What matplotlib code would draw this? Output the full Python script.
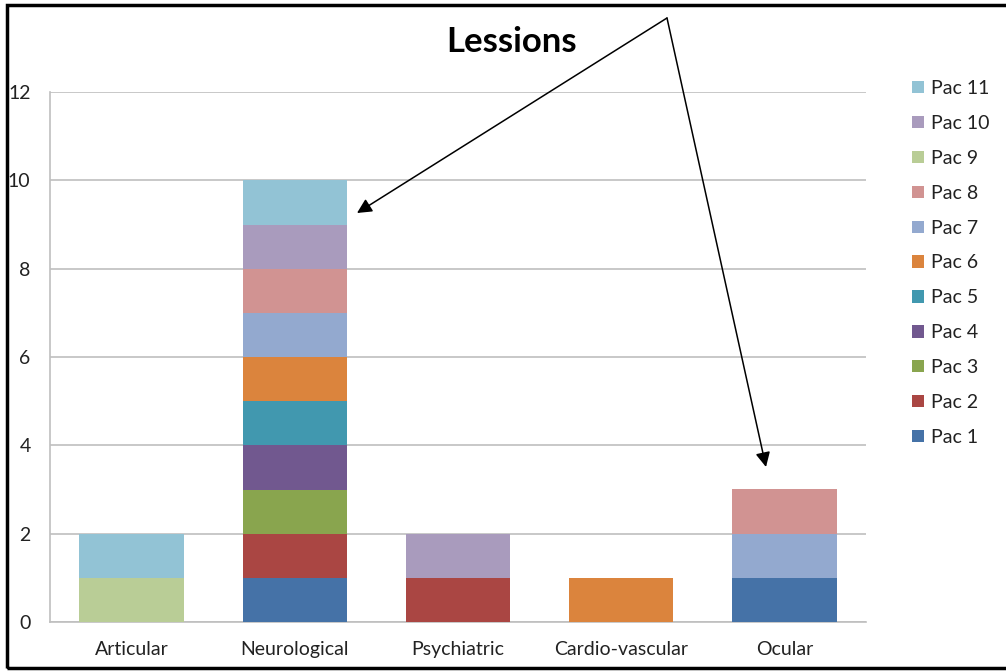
import matplotlib
matplotlib.use("Agg")
import matplotlib.pyplot as plt
from matplotlib.patches import Rectangle
import numpy as np

plt.rcParams['font.family'] = ['Lato', 'DejaVu Sans']

categories = ["Articular", "Neurological", "Psychiatric", "Cardio-vascular", "Ocular"]
series_names = ["Pac 1", "Pac 2", "Pac 3", "Pac 4", "Pac 5", "Pac 6",
                "Pac 7", "Pac 8", "Pac 9", "Pac 10", "Pac 11"]
pac1 = [0, 1, 0, 0, 1]
pac2 = [0, 1, 1, 0, 0]
pac3 = [0, 1, 0, 0, 0]
pac4 = [0, 1, 0, 0, 0]
pac5 = [0, 1, 0, 0, 0]
pac6 = [0, 1, 0, 1, 0]
pac7 = [0, 1, 0, 0, 1]
pac8 = [0, 1, 0, 0, 1]
pac9 = [1, 0, 0, 0, 0]
pac10 = [0, 1, 1, 0, 0]
pac11 = [1, 1, 0, 0, 0]
series_values = [pac1, pac2, pac3, pac4, pac5, pac6, pac7, pac8, pac9, pac10, pac11]
colors = ["#4572A7", "#AA4643", "#89A54E", "#71588F", "#4198AF", "#DB843D",
          "#93A9CF", "#D19392", "#B9CD96", "#A99BBD", "#92C3D5"]
y_ticks = [0, 2, 4, 6, 8, 10, 12]

W, H = 1006, 671
fig = plt.figure(figsize=(W / 100, H / 100), dpi=100)
ax = fig.add_axes([50 / W, 1 - 622 / H, (866 - 50) / W, (622 - 92) / H])

x = np.arange(len(categories))
bottom = np.zeros(len(categories))
handles = []
for name, vals, c in zip(series_names, series_values, colors):
    v = np.array(vals, dtype=float)
    b = ax.bar(x, v, bottom=bottom, width=0.64, color=c, label=name, zorder=3)
    handles.append(b)
    bottom += v

ax.set_xlim(-0.5, len(categories) - 0.5)
ax.set_ylim(0, 12)
ax.set_yticks(y_ticks)
ax.set_xticks(x)
ax.set_xticklabels(categories, fontsize=14, color="#222222")
ax.tick_params(axis='y', length=0, pad=14, labelsize=14, labelcolor="#222222")
ax.tick_params(axis='x', length=0, pad=14)
ax.grid(axis='y', color="#BFBFBF", linewidth=1.2, zorder=0)
for s in ['top', 'right']:
    ax.spines[s].set_visible(False)
for s in ['left', 'bottom']:
    ax.spines[s].set_color("#BFBFBF")
    ax.spines[s].set_linewidth(1.2)

leg = fig.legend(handles[::-1], series_names[::-1], loc='upper left',
                 bbox_to_anchor=(912 / W, 1 - 80 / H), frameon=False,
                 fontsize=14, handlelength=0.6, handleheight=0.6,
                 handletextpad=0.4, labelspacing=0.92, borderaxespad=0,
                 borderpad=0)
for t in leg.get_texts():
    t.set_color("#222222")

fig.text(512 / W, 1 - 42 / H, "Lessions", ha='center', va='center',
         fontsize=25, fontweight='bold')

# frame
fig.patches.append(Rectangle((7 / W, 1 - 668 / H), 1.2, (668 - 5) / H,
                             transform=fig.transFigure, fill=False,
                             edgecolor='black', linewidth=2.5))

apex = (667 / W, 1 - 18 / H)
for tip in [(357 / W, 1 - 213 / H), (766 / W, 1 - 467 / H)]:
    fig.add_artist(matplotlib.patches.FancyArrowPatch(
        apex, tip, transform=fig.transFigure, arrowstyle='-|>',
        mutation_scale=22, color='black', linewidth=1.1, shrinkA=0, shrinkB=0))

fig.savefig("out.png", dpi=100)
